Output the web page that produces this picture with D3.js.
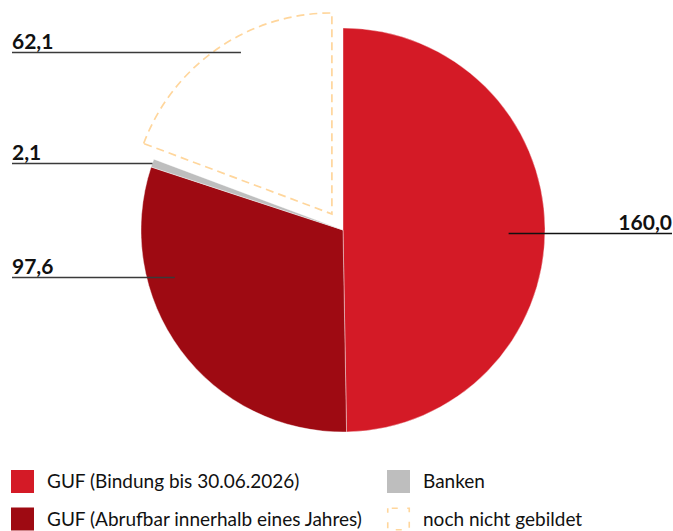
<!DOCTYPE html>
<html><head><meta charset="utf-8">
<script src="https://cdn.jsdelivr.net/npm/d3@7"></script>
<style>
html,body{margin:0;padding:0;background:#fff;}
svg{display:block;}
</style></head>
<body>
<svg id="chart" width="673" height="531"></svg>
<script>
const categories = ["GUF (Bindung bis 30.06.2026)", "GUF (Abrufbar innerhalb eines Jahres)", "Banken", "noch nicht gebildet"];
const values = [160.0, 97.6, 2.1, 62.1];
const valueLabels = ["160,0", "97,6", "2,1", "62,1"];
const colors = ["#D41A26", "#9E0A12", "#BEBEBE", "none"];
const dashedFlags = [false, false, false, true];

const W = 673, H = 531;
const cx = 343, cy = 230, R = 202;
const explode = 19.5;
const dashColor = "#FFD69C";

const svg = d3.select("#chart");
const pie = d3.pie().sort(null).value(d => d)(values);
const arc = d3.arc().innerRadius(0).outerRadius(R);

const g = svg.append("g").attr("transform", `translate(${cx},${cy})`);

function offsetOf(i) {
  if (!dashedFlags[i]) return [0, 0];
  const a = (pie[i].startAngle + pie[i].endAngle) / 2;
  return [explode * Math.sin(a), -explode * Math.cos(a)];
}

pie.forEach((p, i) => {
  const [ox, oy] = offsetOf(i);
  const path = g.append("path")
    .attr("d", arc(p))
    .attr("transform", `translate(${ox},${oy})`);
  if (dashedFlags[i]) {
    path.attr("fill", "none").attr("stroke", dashColor).attr("stroke-width", 1.7)
      .attr("stroke-dasharray", "8,5").attr("d", d3.arc().innerRadius(0).outerRadius(R - 1)(p));
  } else {
    path.attr("fill", colors[i]).attr("stroke", "#fff").attr("stroke-width", 0.4);
  }
});

// label leader lines: angle (deg), radius fraction, side
const labelAngles = [91, 254.4, 289.4, 330.7];
const labelFracs = [0.82, 0.865, 1.0, 0.92];
const labelSide = ["right", "left", "left", "left"];
const leftX = 12, rightX = 672;

pie.forEach((p, i) => {
  const [ox, oy] = offsetOf(i);
  const a = labelAngles[i] * Math.PI / 180;
  const r = R * labelFracs[i];
  const px = cx + ox + r * Math.sin(a);
  const py = cy + oy - r * Math.cos(a);
  const ly = Math.round(py) + 0.5;
  const x0 = labelSide[i] === "left" ? leftX : rightX;
  svg.append("line")
    .attr("x1", x0).attr("x2", px).attr("y1", ly).attr("y2", ly)
    .attr("stroke", labelSide[i] === "left" ? "#3a3a3a" : "#111").attr("stroke-width", 1.6);
  svg.append("text")
    .attr("x", x0).attr("y", ly - 4)
    .attr("text-anchor", labelSide[i] === "left" ? "start" : "end")
    .attr("font-family", "Lato, 'Noto Sans', sans-serif")
    .attr("font-weight", "bold").attr("font-size", 21)
    .attr("fill", "#111")
    .text(valueLabels[i]);
});

// legend
const legendPos = [[11, 470], [11, 507.5], [387, 470], [387, 507.5]];
categories.forEach((c, i) => {
  const [lx, ly] = legendPos[i];
  const sq = svg.append("rect").attr("x", lx).attr("y", ly).attr("width", 23).attr("height", 23);
  if (dashedFlags[i]) {
    sq.attr("x", lx + 0.75).attr("y", ly + 0.75).attr("width", 21.5).attr("height", 21.5)
      .attr("fill", "none").attr("stroke", dashColor).attr("stroke-width", 1.6).attr("stroke-dasharray", "6,9.5").attr("stroke-dashoffset", -4);
  } else {
    sq.attr("fill", colors[i]);
  }
  svg.append("text")
    .attr("x", lx + 36).attr("y", ly + 18)
    .attr("font-family", "Lato, 'Noto Sans', sans-serif")
    .attr("font-size", 19).attr("fill", "#111")
    .text(c);
});
</script>
</body></html>
